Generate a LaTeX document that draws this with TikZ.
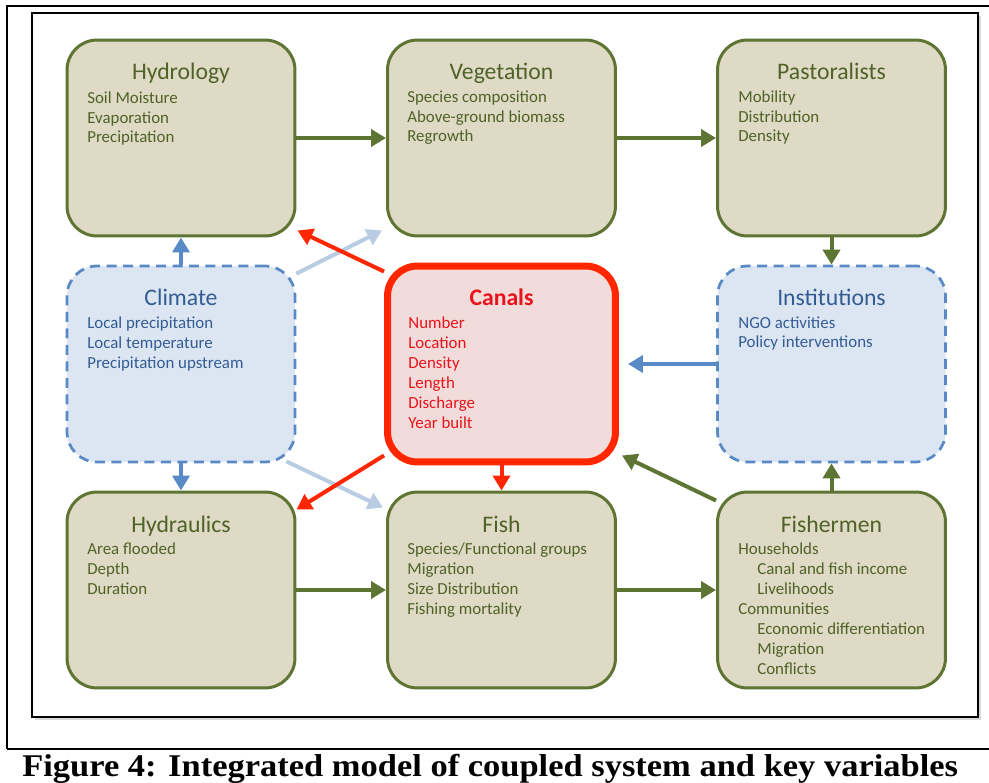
\documentclass[tikz,border=0pt]{standalone}
\usepackage{fontspec}
\setmainfont{Carlito}
\newfontfamily\capfont[FakeStretch=1.09]{Liberation Serif}
\usetikzlibrary{arrows.meta,calc,shadows}

\definecolor{boxtan}{HTML}{DEDAC5}
\definecolor{boxgreen}{HTML}{5E7432}
\definecolor{textgreen}{HTML}{4F6228}
\definecolor{boxsky}{HTML}{DCE6F2}
\definecolor{boxblue}{HTML}{5A8AC6}
\definecolor{textblue}{HTML}{345C94}
\definecolor{paleblue}{HTML}{B8CCE4}
\definecolor{canalred}{HTML}{FF2600}
\definecolor{canalpink}{HTML}{F2DCDB}
\definecolor{textred}{HTML}{E8141B}

\begin{document}
\begin{tikzpicture}[x=0.02cm, y=-0.02cm]
    \tikzset{box/.style={rounded corners=0.6cm, minimum width=4.56cm, minimum height=3.92cm, inner sep=0},
        gbox/.style={box, draw=boxgreen, fill=boxtan, line width=0.06cm},
        bbox/.style={box, draw=boxblue, fill=boxsky, line width=0.055cm, dash pattern=on 0.2cm off 0.13cm},
        rbox/.style={box, draw=canalred, fill=canalpink, line width=0.14cm},
        title/.style={anchor=base, inner sep=0, font=\fontsize{13.5}{16}\selectfont},
        items/.style={anchor=base west, align=left, inner sep=0, font=\fontsize{9.6}{11.38}\selectfont},
        arrow tip/.style={-{Triangle[length=0.3cm, width=0.34cm]}},
        garrow/.style={arrow tip, draw=boxgreen, line width=0.08cm},
        barrow/.style={arrow tip, draw=boxblue, line width=0.08cm},
        parrow/.style={arrow tip, draw=paleblue, line width=0.08cm},
        rarrow/.style={arrow tip, draw=canalred, line width=0.08cm}}
    \useasboundingbox (0, 0) rectangle (989, 783);
    % frame and caption
    \draw [line width=0.05cm, fill=white, drop shadow={shadow xshift=0.06cm, shadow yshift=-0.06cm, opacity=0.3}]
        (32, 13) rectangle (978, 717);
    \draw [line width=0.045cm] (989, 6) -- (7, 6) -- (7, 749);
    \draw [line width=0.045cm] (7, 749) -- (989, 749);
    \node [anchor=base west, inner sep=0, font=\capfont\bfseries\fontsize{18}{20}\selectfont] (caption) at (22, 776)
        {Figure 4: Integrated model of coupled system and key variables};
    % boxes
    \node [gbox] (hyd) at (181, 138) {};
    \node [gbox] (veg) at (501.5, 138) {};
    \node [gbox] (past) at (831.5, 138) {};
    \node [bbox] (clim) at (181, 364) {};
    \node [rbox] (can) at (501.5, 364) {};
    \node [bbox] (inst) at (831.5, 364) {};
    \node [gbox] (hydr) at (181, 590) {};
    \node [gbox] (fish) at (501.5, 590) {};
    \node [gbox] (fishm) at (831.5, 590) {};
    % texts (lists are placed by the baseline of their last line)
    \node [title, textgreen] (hydT) at (181, 80) {Hydrology};
    \node [items, textgreen] (hydL) at (87, 143) {Soil Moisture\\Evaporation\\Precipitation};
    \node [title, textgreen] (vegT) at (501.5, 80) {Vegetation};
    \node [items, textgreen] (vegL) at (407, 142) {Species composition\\Above-ground biomass\\Regrowth};
    \node [title, textgreen] (pastT) at (831.5, 80) {Pastoralists};
    \node [items, textgreen] (pastL) at (738, 142) {Mobility\\Distribution\\Density};
    \node [title, textblue] (climT) at (181, 306) {Climate};
    \node [items, textblue] (climL) at (87, 368) {Local precipitation\\Local temperature\\Precipitation upstream};
    \node [title, textred, font=\fontsize{13.5}{16}\selectfont\bfseries] (canT) at (501.5, 306) {Canals};
    \node [items, textred] (canL) at (408, 428) {Number\\Location\\Density\\Length\\Discharge\\Year built};
    \node [title, textblue] (instT) at (831.5, 306) {Institutions};
    \node [items, textblue] (instL) at (738, 348) {NGO activities\\Policy interventions};
    \node [title, textgreen] (hydrT) at (181, 532) {Hydraulics};
    \node [items, textgreen] (hydrL) at (87, 594) {Area flooded\\Depth\\Duration};
    \node [title, textgreen] (fishT) at (501.5, 532) {Fish};
    \node [items, textgreen] (fishL) at (407, 614) {Species/Functional groups\\Migration\\Size Distribution\\Fishing mortality};
    \node [title, textgreen] (fishmT) at (831.5, 532) {Fishermen};
    \node [items, textgreen] (fishmL) at (738, 674) {Households\\\hspace*{0.38cm}Canal and fish income\\\hspace*{0.38cm}Livelihoods\\Communities\\\hspace*{0.38cm}Economic differentiation\\\hspace*{0.38cm}Migration\\\hspace*{0.38cm}Conflicts};
    % links
    \draw [garrow] (hyd) -- (veg);
    \draw [garrow] (veg) -- (past);
    \draw [garrow] (past) -- (inst);
    \draw [garrow] (hydr) -- (fish);
    \draw [garrow] (fish) -- (fishm);
    \draw [garrow] (fishm) -- (inst);
    \draw [garrow] ($(fishm.north west)+(0, 10)$) -- ($(can.south east)+(3, -10)$);
    \draw [barrow] (clim) -- (hyd);
    \draw [barrow] (clim) -- (hydr);
    \draw [barrow, shorten >=0.18cm] (inst) -- (can);
    \draw [parrow] ($(clim.north east)+(0, 9)$) -- ($(veg.south west)+(-4, -7)$);
    \draw [parrow] ($(clim.south east)+(-10, -2)$) -- ($(fish.north west)+(-3, 17)$);
    \draw [rarrow] ($(can.north west)+(0, 9)$) -- ($(hyd.south east)+(1, -7)$);
    \draw [rarrow] ($(can.south west)+(0, -10)$) -- ($(hydr.north east)+(0, 19)$);
    \draw [rarrow] (can) -- (fish);
\end{tikzpicture}
\end{document}
